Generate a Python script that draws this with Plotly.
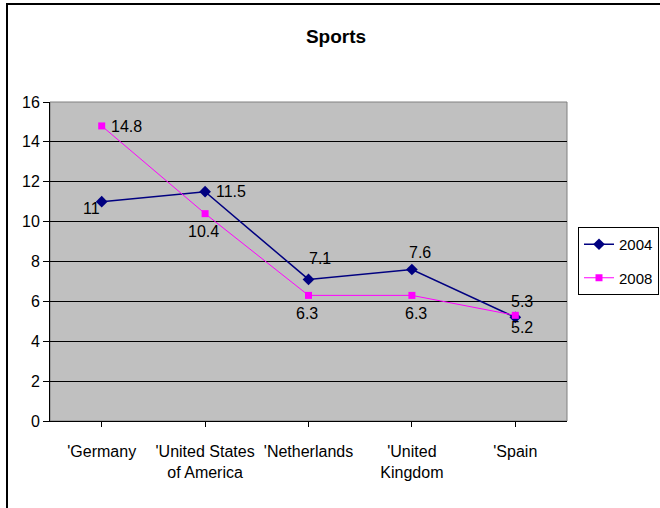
import plotly.graph_objects as go

categories = ["'Germany", "'United States<br>of America", "'Netherlands", "'United<br>Kingdom", "'Spain"]
series_2004 = [11, 11.5, 7.1, 7.6, 5.2]
series_2008 = [14.8, 10.4, 6.3, 6.3, 5.3]
y_ticks = [0, 2, 4, 6, 8, 10, 12, 14, 16]

# label offsets (pixels) per point
off_2004 = [(-10, -7), (26, 0), (11, 21), (8, 17), (7, -10)]
off_2008 = [(25, -1), (-2, -18), (-2, -18), (4, -18), (7, 14)]

FONT = "Arial, Liberation Sans, sans-serif"
x_idx = list(range(len(categories)))

fig = go.Figure()
fig.add_trace(go.Scatter(
    x=x_idx, y=series_2004, name="2004", mode="lines+markers",
    line=dict(color="#000080", width=1.5),
    marker=dict(symbol="diamond", size=9, color="#000080"),
    legendgroup="a"))
fig.add_trace(go.Scatter(
    x=x_idx, y=series_2008, name="2008", mode="lines+markers",
    line=dict(color="#FF00FF", width=1),
    marker=dict(symbol="square", size=7, color="#FF00FF"),
    legendgroup="b"))

annotations = []
for vals, offs in ((series_2004, off_2004), (series_2008, off_2008)):
    for i, (v, (dx, dy)) in enumerate(zip(vals, offs)):
        annotations.append(dict(
            x=i, y=v, xref="x", yref="y", text=str(v), showarrow=False,
            xshift=dx, yshift=dy, font=dict(family=FONT, size=16, color="black")))

fig.update_layout(
    width=660, height=508,
    margin=dict(l=50, r=93, t=102, b=87, autoexpand=False),
    paper_bgcolor="white", plot_bgcolor="#C0C0C0",
    font=dict(family=FONT, size=16, color="black"),
    title=dict(text="<b>Sports</b>", x=(336 - 50) / 517, xref="paper", xanchor="center",
               y=1 - 36 / 508, yref="container", yanchor="middle",
               font=dict(family=FONT, size=19, color="black")),
    xaxis=dict(
        range=[-0.5, 4.5], tickmode="array", tickvals=x_idx, ticktext=categories,
        showgrid=False, zeroline=False, showline=True, linecolor="black", linewidth=1,
        ticks="outside", ticklen=5, tickcolor="black", tickson="boundaries",
        ticklabelstandoff=11, tickfont=dict(family=FONT, size=16, color="black")),
    yaxis=dict(
        range=[0, 16], tickvals=y_ticks, showgrid=True, gridcolor="black", gridwidth=1,
        zeroline=False, showline=True, linecolor="black", linewidth=1,
        ticks="outside", ticklen=6, tickcolor="black",
        tickfont=dict(family=FONT, size=16, color="black")),
    legend=dict(x=(578 - 50) / 517, y=(421 - 227) / 319, xanchor="left", yanchor="top",
                bgcolor="white", bordercolor="black", borderwidth=1,
                tracegroupgap=11, font=dict(family=FONT, size=15, color="black")),
    annotations=annotations,
    shapes=[
        dict(type="rect", xref="x domain", yref="y domain", x0=0, x1=1, y0=0, y1=1,
             line=dict(color="#808080", width=1), layer="below"),
        dict(type="rect", xref="paper", yref="paper",
             x0=(7 - 50) / 517, x1=(664 - 50) / 517,
             y0=(421 - 512) / 319, y1=(421 - 4) / 319,
             line=dict(color="black", width=2), layer="above"),
    ],
)

fig.write_html("out.html")
